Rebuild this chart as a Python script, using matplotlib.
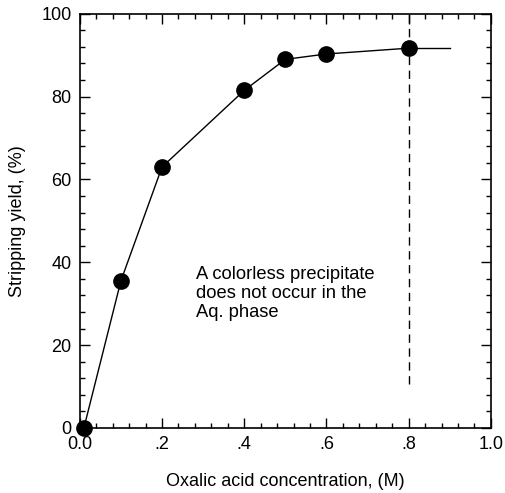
import matplotlib
matplotlib.use('Agg')
import matplotlib.pyplot as plt
from matplotlib.ticker import MultipleLocator, FixedLocator

plt.rcParams['font.family'] = ['Liberation Sans', 'DejaVu Sans']

# data
conc = [0.01, 0.1, 0.2, 0.4, 0.5, 0.6, 0.8]
yield_pct = [0.0, 35.5, 63.0, 81.5, 89.0, 90.3, 91.7]
tail_x = [0.8, 0.9]
tail_y = [91.7, 91.7]
limit_x = 0.8
limit_y = [10.5, 100]
xticks = [0.0, 0.2, 0.4, 0.6, 0.8, 1.0]
xtick_labels = ['0.0', '.2', '.4', '.6', '.8', '1.0']
yticks = [0, 20, 40, 60, 80, 100]
note = 'A colorless precipitate\ndoes not occur in the\nAq. phase'

fig = plt.figure(figsize=(5.05, 4.93), dpi=100)
ax = fig.add_axes([0.158, 0.132, 0.814, 0.840])

ax.plot(conc, yield_pct, color='black', lw=1.0, marker='o', ms=11,
        markerfacecolor='black', markeredgecolor='black', clip_on=False, zorder=3)
ax.plot(tail_x, tail_y, color='black', lw=1.0)
ax.plot([limit_x, limit_x], limit_y, color='black', lw=1.0, ls=(0, (6, 4)))

ax.text(0.283, 39.0, note, fontsize=13.2, va='top', ha='left', linespacing=1.12)

ax.set_xlim(0, 1.0)
ax.set_ylim(0, 100)
ax.xaxis.set_major_locator(FixedLocator(xticks))
ax.set_xticklabels(xtick_labels)
ax.set_yticks(yticks)
ax.xaxis.set_minor_locator(MultipleLocator(0.04))
ax.yaxis.set_minor_locator(MultipleLocator(4))

ax.tick_params(which='both', direction='in', top=True, right=True, width=1.0)
ax.tick_params(which='major', length=7, labelsize=13, pad=6)
ax.tick_params(which='minor', length=3.5)
for s in ax.spines.values():
    s.set_linewidth(1.2)

ax.set_xlabel('Oxalic acid concentration, (M)', fontsize=13, labelpad=14)
ax.set_ylabel('Stripping yield, (%)', fontsize=13, labelpad=11)

fig.savefig('out.png', dpi=100)
